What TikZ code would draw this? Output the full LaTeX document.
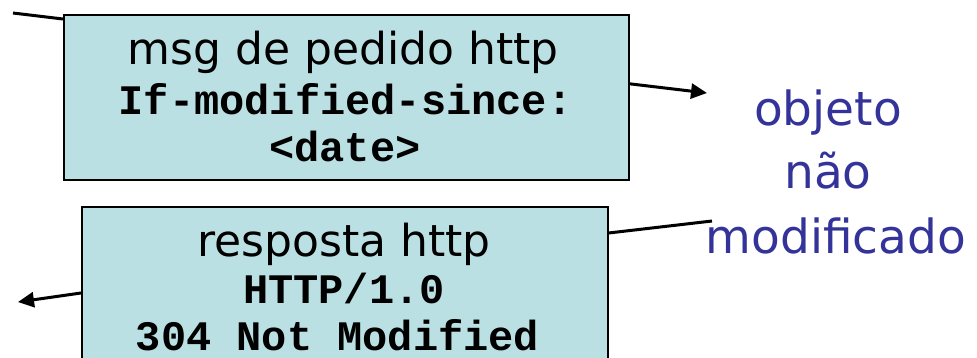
\documentclass[tikz,border=0pt]{standalone}
\usepackage{fontspec}
\newfontfamily\comicfont{DejaVu Sans}
\newfontfamily\courfont{Liberation Mono}
\usetikzlibrary{arrows.meta}
\definecolor{boxfill}{RGB}{187,224,227}
\definecolor{noteblue}{RGB}{51,51,153}
\tikzset{
  msgbox/.style={draw=black, line width=1.6pt, fill=boxfill, inner sep=0pt, anchor=north west},
  headtxt/.style={anchor=base, inner sep=0pt, font=\comicfont\fontsize{44}{50}\selectfont},
  codetxt/.style={anchor=base, inner sep=0pt, font=\courfont\bfseries\fontsize{42}{48}\selectfont},
  notetxt/.style={anchor=base, inner sep=0pt, text=noteblue, font=\comicfont\fontsize{47}{54}\selectfont},
  wire/.style={line width=3pt, black},
  arr/.style={wire, -{Triangle[length=16pt,width=15pt]}}
}
\begin{document}
\begin{tikzpicture}[x=1pt,y=-1pt]
\useasboundingbox (0,0) rectangle (977,357);
\begin{scope}
\clip (0,0) rectangle (977,357);
% request box
\node[msgbox, minimum width=565pt, minimum height=165pt] (req) at (63,14) {};
\node[headtxt] (reqt) at (343,64) {msg de pedido http};
\node[codetxt] (reqh) at (345.5,114) {If-modified-since:};
\node[codetxt] (reqd) at (345,161) {<date>};
% response box
\node[msgbox, minimum width=526pt, minimum height=175pt] (resp) at (81,206) {};
\node[headtxt] (respt) at (344,256) {resposta http};
\node[codetxt] (resph) at (344,303) {HTTP/1.0};
\node[codetxt] (resps) at (337.5,350) {304 Not Modified};
% note
\node[notetxt] (n1) at (828,125) {objeto};
\node[notetxt] (n2) at (828,188) {não};
\node[notetxt] (n3) at (836,253) {modificado};
% connectors
\coordinate (c1) at (13,13);
\coordinate (c2) at (707,93);
\coordinate (c3) at (712,221);
\coordinate (c4) at (18,302);
\draw[wire] (c1) -- ([yshift=-5pt]req.north west);
\draw[arr] ([yshift=13.5pt]req.east) -- (c2);
\draw[wire] ([yshift=-27pt]resp.north east) -- (c3);
\draw[arr] ([yshift=-87pt]resp.north west) -- (c4);
\end{scope}
\end{tikzpicture}
\end{document}
